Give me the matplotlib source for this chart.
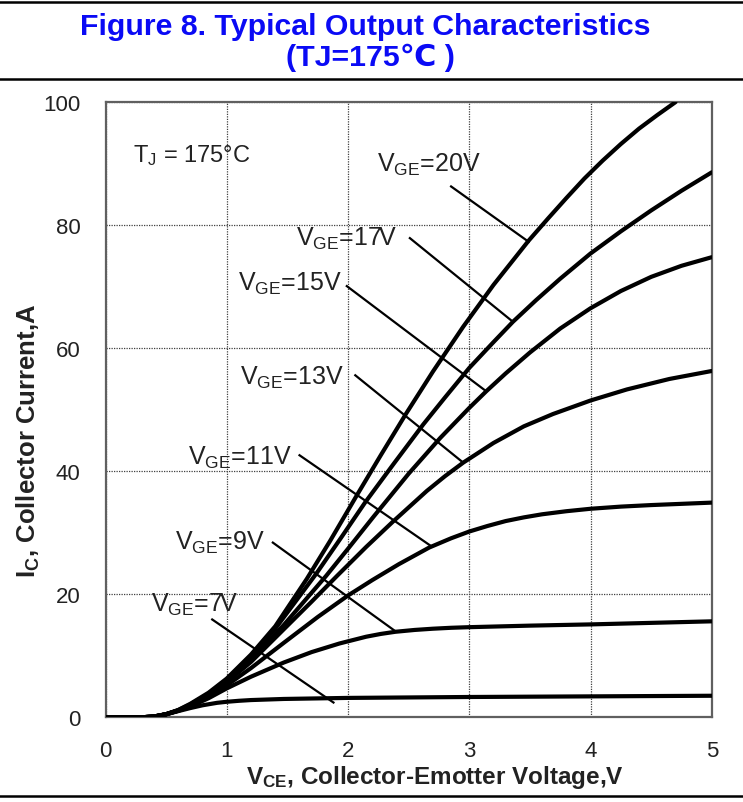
import matplotlib
matplotlib.use('Agg')
import matplotlib.pyplot as plt
from matplotlib.lines import Line2D
from matplotlib import font_manager

plt.rcParams['font.family'] = ['Liberation Sans', 'DejaVu Sans']
plt.rcParams['mathtext.fontset'] = 'custom'
plt.rcParams['mathtext.rm'] = 'Liberation Sans'
plt.rcParams['mathtext.it'] = 'Liberation Sans:italic'
plt.rcParams['mathtext.bf'] = 'Liberation Sans:bold'

names = set(f.name for f in font_manager.fontManager.ttflist)
title_font = ['Liberation Sans Narrow'] if 'Liberation Sans Narrow' in names else []
title_font += ['Liberation Sans', 'DejaVu Sans']

# output curves, Vce (V) vs Ic (A), one pair per gate voltage
v_20 = [0, 0.3, 0.4, 0.5, 0.6, 0.7, 0.85, 1.0, 1.2, 1.4, 1.66, 1.85, 2.07, 2.27, 2.48, 2.7, 2.95, 3.2, 3.49, 3.65, 3.8, 3.95, 4.1, 4.25, 4.4, 4.55, 4.7]
i_20 = [0, 0, 0.12, 0.5, 1.2, 2.2, 4.0, 6.3, 10.2, 14.8, 22.5, 28.6, 36.0, 42.6, 49.4, 56.2, 63.5, 70.3, 77.5, 81.1, 84.4, 87.6, 90.5, 93.2, 95.7, 97.9, 100.0]

v_17 = [0, 0.3, 0.4, 0.5, 0.6, 0.7, 0.85, 1.0, 1.2, 1.4, 1.74, 1.95, 2.14, 2.38, 2.62, 2.8, 3.0, 3.2, 3.36, 3.55, 3.75, 4.0, 4.25, 4.5, 4.75, 5.0]
i_17 = [0, 0, 0.12, 0.5, 1.15, 2.1, 3.8, 6.1, 10.0, 14.4, 23.4, 29.4, 34.9, 41.3, 47.6, 52.0, 56.8, 61.0, 64.3, 67.8, 71.3, 75.4, 79.0, 82.4, 85.6, 88.6]

v_15 = [0, 0.3, 0.4, 0.5, 0.6, 0.7, 0.85, 1.0, 1.2, 1.47, 1.82, 2.0, 2.21, 2.5, 2.76, 3.0, 3.14, 3.3, 3.5, 3.75, 4.0, 4.25, 4.5, 4.75, 5.0]
i_15 = [0, 0, 0.12, 0.5, 1.12, 2.05, 3.7, 5.9, 9.4, 15.0, 23.0, 27.4, 32.6, 39.6, 45.4, 50.3, 53.0, 55.9, 59.3, 63.2, 66.5, 69.3, 71.6, 73.4, 74.8]

v_13 = [0, 0.3, 0.4, 0.5, 0.6, 0.7, 0.85, 1.0, 1.2, 1.47, 1.7, 1.91, 2.15, 2.37, 2.65, 2.8, 2.95, 3.2, 3.45, 3.69, 4.0, 4.3, 4.65, 5.0]
i_13 = [0, 0, 0.12, 0.5, 1.1, 2.0, 3.6, 5.7, 9.0, 14.3, 18.8, 23.0, 27.7, 31.8, 36.8, 39.2, 41.4, 44.6, 47.3, 49.3, 51.5, 53.3, 55.0, 56.3]

v_11 = [0, 0.3, 0.4, 0.5, 0.6, 0.7, 0.85, 1.0, 1.2, 1.47, 1.75, 2.0, 2.2, 2.42, 2.67, 2.85, 3.0, 3.15, 3.3, 3.45, 3.6, 3.8, 4.0, 4.25, 4.5, 5.0]
i_11 = [0, 0, 0.12, 0.5, 1.08, 1.9, 3.4, 5.2, 8.0, 12.1, 16.3, 19.8, 22.3, 24.9, 27.6, 29.1, 30.2, 31.1, 31.9, 32.5, 33.0, 33.5, 33.9, 34.25, 34.5, 34.9]

v_9 = [0, 0.3, 0.4, 0.5, 0.6, 0.7, 0.85, 1.0, 1.2, 1.47, 1.7, 1.93, 2.05, 2.15, 2.27, 2.39, 2.55, 2.7, 2.85, 3.0, 3.5, 4.0, 4.5, 5.0]
i_9 = [0, 0, 0.12, 0.5, 1.05, 1.75, 3.1, 4.7, 6.6, 8.9, 10.6, 12.0, 12.6, 13.1, 13.55, 13.9, 14.2, 14.4, 14.55, 14.65, 14.9, 15.1, 15.35, 15.6]

v_7 = [0, 0.3, 0.4, 0.5, 0.6, 0.7, 0.8, 0.92, 1.0, 1.1, 1.2, 1.47, 2.0, 3.0, 4.0, 5.0]
i_7 = [0, 0, 0.12, 0.48, 1.0, 1.5, 1.95, 2.35, 2.52, 2.68, 2.8, 2.98, 3.15, 3.3, 3.4, 3.5]

curves = [(v_20, i_20), (v_17, i_17), (v_15, i_15), (v_13, i_13),
          (v_11, i_11), (v_9, i_9), (v_7, i_7)]

# labels and leader lines (text anchor, line start, line end)
vge_labels = ['20V', '17V', '15V', '13V', '11V', '9V', '7V']
label_x = [2.24, 1.57, 1.09, 1.11, 0.68, 0.57, 0.375]
label_y = [89.9, 78.0, 70.7, 55.3, 42.4, 28.5, 18.4]
lead_x0 = [2.85, 2.51, 1.99, 2.06, 1.60, 1.38, 0.88]
lead_y0 = [86.3, 77.9, 70.1, 55.6, 42.6, 28.4, 15.9]
lead_x1 = [3.49, 3.36, 3.14, 2.95, 2.68, 2.39, 1.88]
lead_y1 = [77.3, 64.3, 53.0, 41.4, 27.9, 14.0, 2.4]

x_ticks = [0, 1, 2, 3, 4, 5]
y_ticks = [0, 20, 40, 60, 80, 100]

fig = plt.figure(figsize=(7.43, 8.03), dpi=100)
ax = fig.add_axes([0.142, 0.1055, 0.816, 0.766])

for v, i in curves:
    ax.plot(v, i, color='black', lw=3.0, solid_capstyle='round', solid_joinstyle='round', zorder=3)

for k in range(len(vge_labels)):
    ax.plot([lead_x0[k], lead_x1[k]], [lead_y0[k], lead_y1[k]], color='black', lw=1.6, zorder=2)
    ax.text(label_x[k], label_y[k], r'V$_{\mathrm{GE}}$=' + vge_labels[k],
            fontsize=18, color='#222222', ha='left', va='center', zorder=4)

ax.text(0.23, 91.5, r'T$_{\mathrm{J}}$ = 175°C', fontsize=17, color='#222222', ha='left', va='center')

ax.set_xlim(0, 5)
ax.set_ylim(0, 100)
ax.set_xticks(x_ticks)
ax.set_yticks(y_ticks)
ax.tick_params(length=0, labelsize=16, labelcolor='#222222')
ax.tick_params(axis='x', pad=16)
ax.tick_params(axis='y', pad=18)
ax.grid(True, color='#404040', lw=0.9, ls=(0, (1, 1)))
ax.set_axisbelow(True)
for s in ax.spines.values():
    s.set_color('#606060')
    s.set_linewidth(1.6)

ax.set_xlabel(r'$\mathbf{V_{CE}}$, Collector-Emotter Voltage,V', fontsize=17.5, fontweight='bold', color='#222222')
ax.xaxis.set_label_coords(0.543, -0.074)
ax.set_ylabel(r'$\mathbf{I_C}$, Collector Current,A', fontsize=18.5, fontweight='bold', color='#222222')
ax.yaxis.set_label_coords(-0.105, 0.451)

# title block with rules
fig.text(0.492, 1 - 27 / 803, 'Figure 8. Typical Output Characteristics', fontsize=21.8,
         fontweight='bold', color='#0a0af5', ha='center', va='center', family=title_font)
fig.text(0.498, 1 - 58 / 803, '(TJ=175℃ )', fontsize=21.8, fontweight='bold',
         color='#0a0af5', ha='center', va='center', family=title_font)
for yy in [3, 80, 797]:
    fig.add_artist(Line2D([0, 1], [1 - yy / 803, 1 - yy / 803], color='black', lw=1.8,
                          transform=fig.transFigure))

fig.savefig('out.png', dpi=100)
